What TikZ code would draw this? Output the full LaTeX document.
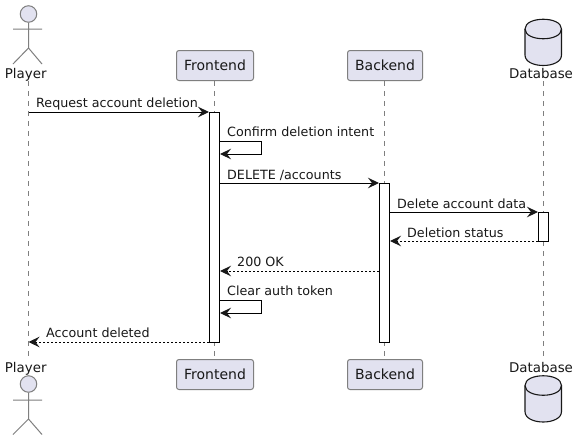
\documentclass[tikz,border=0pt]{standalone}
\usepackage{fontspec}
\setmainfont{DejaVu Sans}
\usetikzlibrary{arrows.meta}
\definecolor{partfill}{HTML}{E2E2F0}
\definecolor{partline}{HTML}{7F7F7F}
\definecolor{ink}{HTML}{181818}
\tikzset{
  x=1pt,y=-1pt,
  lifeline/.style={draw=partline,line width=0.8pt,dash pattern=on 5pt off 5pt},
  partbox/.style={draw=partline,line width=1pt,fill=partfill,rounded corners=2.5pt,minimum height=30pt,inner sep=0pt,font=\fontsize{14pt}{16pt}\selectfont,text=ink},
  partname/.style={inner sep=0pt,font=\fontsize{13.4pt}{16pt}\selectfont,text=ink,anchor=base},
  actorline/.style={draw=partline,line width=1pt},
  actorhead/.style={circle,draw=partline,line width=1pt,fill=partfill,minimum size=16.5pt,inner sep=0pt},
  dbline/.style={draw=ink,line width=1.1pt},
  actbar/.style={draw=black,line width=1pt,fill=white,minimum width=10pt,inner sep=0pt},
  msg/.style={draw=black,line width=1pt,-{Stealth[length=11pt,width=10.5pt,inset=4pt,color=ink]}},
  reply/.style={msg,dash pattern=on 2pt off 2pt},
  msglabel/.style={anchor=base west,inner sep=0pt,font=\fontsize{12.7pt}{15pt}\selectfont,text=ink},
}
\newcommand{\dbdrum}[1]{%
  \path[dbline,fill=partfill] (525,#1+10) .. controls (525,#1-3) and (561.5,#1-3) .. (561.5,#1+10)
    -- (561.5,#1+36) .. controls (561.5,#1+50) and (525,#1+50) .. (525,#1+36) -- cycle;
  \path[dbline] (525,#1+10) .. controls (525,#1+23) and (561.5,#1+23) .. (561.5,#1+10);
}
\begin{document}
\begin{tikzpicture}
\useasboundingbox (0,0) rectangle (579,440);
\fill[white] (0,0) rectangle (579,440);

% participant heads and feet
\node[partbox,minimum width=77pt] (ft) at (215,65.5) {Frontend};
\node[partbox,minimum width=75pt] (bt) at (385,65.5) {Backend};
\node[partbox,minimum width=77pt] (fb) at (215,374.5) {Frontend};
\node[partbox,minimum width=75pt] (bb) at (385,374.5) {Backend};
\node[partname] (pt) at (25.7,78) {Player};
\node[partname] (pb) at (25.7,372) {Player};
\node[partname] (dt) at (541,78) {Database};
\node[partname] (db) at (541,372) {Database};

% lifelines
\coordinate (pl1) at (28.5,81); \coordinate (pl2) at (28.5,357);
\coordinate (dl1) at (543.5,81); \coordinate (dl2) at (543.5,357);
\draw[lifeline] (pl1) -- (pl2);
\draw[lifeline] (dl1) -- (dl2);
\draw[lifeline] (214.5,81) -- (214.5,357);
\draw[lifeline] (384.5,81) -- (384.5,357);

% activations
\node[actbar,minimum height=230pt] (fa) at (214.5,227) {};
\node[actbar,minimum height=159pt] (ba) at (384.5,262.5) {};
\node[actbar,minimum height=29pt] (da) at (543.5,226.5) {};

% actors
\node[actorhead] (ph1) at (28.5,14) {};
\draw[actorline] (ph1) -- (28.5,48) -- (13,64) (28.5,48) -- (42,64) (13,29) -- (42,29);
\node[actorhead] (ph2) at (28.5,384) {};
\draw[actorline] (ph2) -- (28.5,419) -- (13,434.5) (28.5,419) -- (42,434.5) (13,400) -- (42,400);

% databases
\dbdrum{19}
\dbdrum{375.5}

% message anchors
\coordinate (m1) at (fa.west |- 0,112);
\coordinate (m1p) at (28.5,112);
\coordinate (s1a) at (fa.east |- 0,141);
\coordinate (s1b) at (fa.east |- 0,154);
\coordinate (m3a) at (fa.east |- 0,183);
\coordinate (m3b) at (ba.west |- 0,183);
\coordinate (m4a) at (ba.east |- 0,212);
\coordinate (m4b) at (da.west |- 0,212);
\coordinate (m5a) at (da.west |- 0,241);
\coordinate (m5b) at (ba.east |- 0,241);
\coordinate (m6a) at (ba.west |- 0,271);
\coordinate (m6b) at (fa.east |- 0,271);
\coordinate (s2a) at (fa.east |- 0,300);
\coordinate (s2b) at (fa.east |- 0,313);
\coordinate (m8a) at (fa.west |- 0,342);
\coordinate (m8b) at (28.5,342);

% messages
\draw[msg] (m1p) -- (m1);
\draw[msg] (s1a) -- (261.5,141) -- (261.5,154) -- (s1b);
\draw[msg] (m3a) -- (m3b);
\draw[msg] (m4a) -- (m4b);
\draw[reply] (m5a) -- (m5b);
\draw[reply] (m6a) -- (m6b);
\draw[msg] (s2a) -- (261.5,300) -- (261.5,313) -- (s2b);
\draw[reply] (m8a) -- (m8b);

% labels
\node[msglabel] (l1) at (36,107) {Request account deletion};
\node[msglabel] (l2) at (227,136) {Confirm deletion intent};
\node[msglabel] (l3) at (227,179) {DELETE /accounts};
\node[msglabel] (l4) at (397,208) {Delete account data};
\node[msglabel] (l5) at (407,237) {Deletion status};
\node[msglabel] (l6) at (237,266) {200 OK};
\node[msglabel] (l7) at (227,295) {Clear auth token};
\node[msglabel] (l8) at (46,337) {Account deleted};
\end{tikzpicture}
\end{document}
